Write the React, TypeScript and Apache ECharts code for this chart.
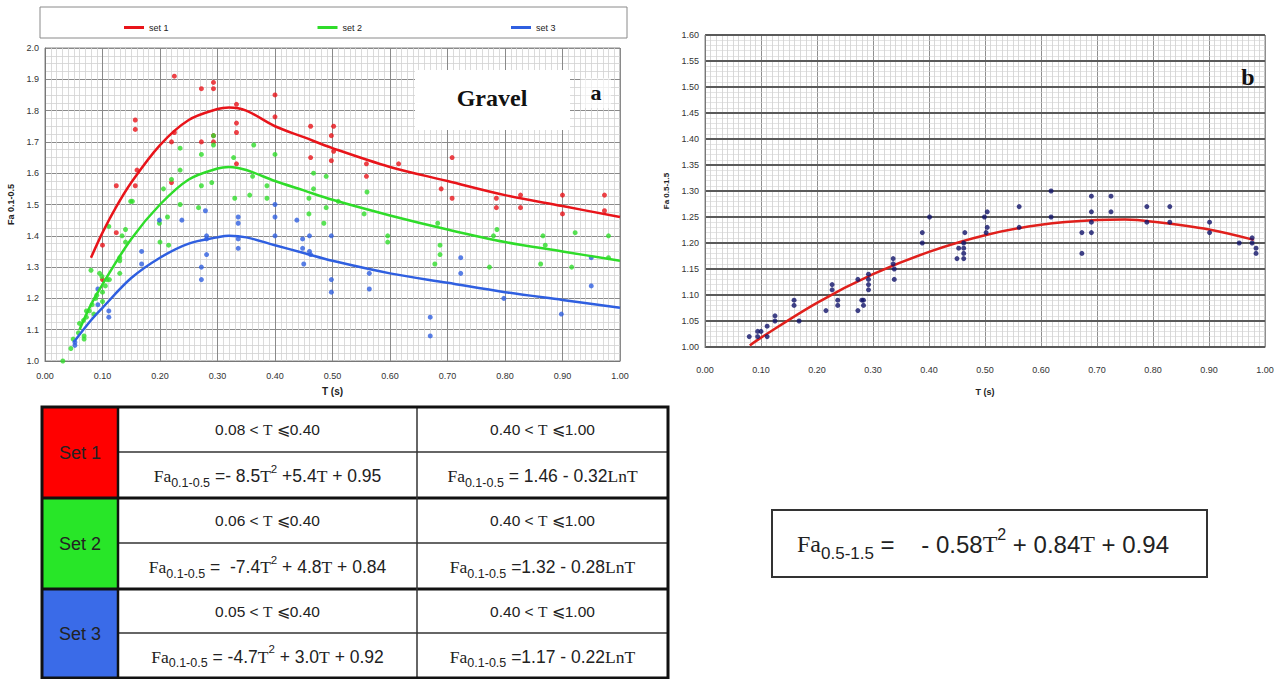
import React, { useEffect, useRef } from "react";
import * as echarts from "echarts";

// ---------- Data: panel a (Gravel) ----------
const set1Points: number[][] = [
  [0.10, 1.26], [0.10, 1.37], [0.124, 1.41], [0.124, 1.56], [0.157, 1.56], [0.157, 1.74], [0.157, 1.77], [0.16, 1.61],
  [0.22, 1.57], [0.22, 1.70], [0.225, 1.73], [0.225, 1.91], [0.272, 1.70], [0.272, 1.87], [0.293, 1.70], [0.293, 1.72],
  [0.293, 1.87], [0.293, 1.89], [0.333, 1.63], [0.333, 1.73], [0.333, 1.76], [0.333, 1.82], [0.40, 1.78], [0.40, 1.85],
  [0.462, 1.65], [0.462, 1.75], [0.498, 1.64], [0.498, 1.72], [0.502, 1.67], [0.502, 1.75], [0.559, 1.59], [0.559, 1.63],
  [0.615, 1.63], [0.689, 1.55], [0.708, 1.52], [0.708, 1.65], [0.785, 1.49], [0.785, 1.52], [0.827, 1.49], [0.827, 1.53],
  [0.90, 1.47], [0.90, 1.53], [0.973, 1.48], [0.973, 1.53],
];
const set2Points: number[][] = [
  [0.031, 1.00], [0.045, 1.04], [0.049, 1.07], [0.058, 1.09], [0.06, 1.12], [0.067, 1.13], [0.068, 1.07], [0.068, 1.08],
  [0.072, 1.14], [0.072, 1.16], [0.077, 1.16], [0.08, 1.29], [0.082, 1.18], [0.085, 1.15], [0.088, 1.20], [0.09, 1.21],
  [0.095, 1.28], [0.099, 1.27], [0.10, 1.22], [0.10, 1.19], [0.105, 1.24], [0.108, 1.26], [0.111, 1.43], [0.112, 1.26],
  [0.13, 1.33], [0.13, 1.32], [0.13, 1.28], [0.134, 1.40], [0.14, 1.42], [0.14, 1.38], [0.149, 1.51], [0.152, 1.51],
  [0.199, 1.44], [0.20, 1.38], [0.206, 1.55], [0.213, 1.46], [0.215, 1.37], [0.22, 1.58], [0.235, 1.50], [0.235, 1.61],
  [0.235, 1.68], [0.267, 1.49], [0.272, 1.56], [0.272, 1.66], [0.29, 1.57], [0.293, 1.69], [0.293, 1.72], [0.328, 1.65],
  [0.33, 1.52], [0.356, 1.53], [0.361, 1.59], [0.363, 1.69], [0.386, 1.56], [0.386, 1.52], [0.40, 1.66], [0.459, 1.52],
  [0.459, 1.47], [0.467, 1.55], [0.467, 1.60], [0.485, 1.44], [0.489, 1.49], [0.489, 1.59], [0.51, 1.51], [0.555, 1.47],
  [0.56, 1.54], [0.596, 1.40], [0.596, 1.38], [0.678, 1.31], [0.683, 1.44], [0.687, 1.37], [0.687, 1.34], [0.773, 1.30],
  [0.78, 1.40], [0.786, 1.42], [0.862, 1.31], [0.866, 1.40], [0.87, 1.37], [0.916, 1.30], [0.922, 1.41], [0.98, 1.40],
  [0.98, 1.33],
];
const set3Points: number[][] = [
  [0.052, 1.05], [0.052, 1.06], [0.092, 1.23], [0.092, 1.18], [0.111, 1.16], [0.111, 1.14], [0.168, 1.35], [0.168, 1.31],
  [0.199, 1.45], [0.238, 1.45], [0.272, 1.30], [0.272, 1.26], [0.279, 1.48], [0.281, 1.40], [0.281, 1.39], [0.281, 1.34],
  [0.336, 1.46], [0.336, 1.44], [0.336, 1.39], [0.336, 1.36], [0.40, 1.50], [0.40, 1.46], [0.40, 1.40], [0.438, 1.45],
  [0.448, 1.39], [0.448, 1.36], [0.45, 1.31], [0.46, 1.40], [0.46, 1.35], [0.462, 1.34], [0.498, 1.40], [0.498, 1.26],
  [0.498, 1.22], [0.564, 1.28], [0.564, 1.23], [0.67, 1.14], [0.67, 1.08], [0.723, 1.33], [0.723, 1.28], [0.798, 1.20],
  [0.898, 1.15], [0.95, 1.33], [0.95, 1.24],
];

const set1CurveT = [0.08, 0.10, 0.12, 0.15, 0.20, 0.25, 0.30, 0.32, 0.35, 0.40, 0.45, 0.50, 0.60, 0.70, 0.80, 0.90, 1.00];
const set1CurveFa = [1.33, 1.41, 1.48, 1.57, 1.69, 1.77, 1.805, 1.81, 1.80, 1.75, 1.715, 1.68, 1.62, 1.575, 1.53, 1.495, 1.46];
const set2CurveT = [0.06, 0.08, 0.10, 0.15, 0.20, 0.25, 0.30, 0.32, 0.35, 0.40, 0.45, 0.50, 0.60, 0.70, 0.80, 0.90, 1.00];
const set2CurveFa = [1.10, 1.18, 1.245, 1.39, 1.50, 1.58, 1.615, 1.62, 1.61, 1.575, 1.545, 1.515, 1.465, 1.42, 1.38, 1.35, 1.32];
const set3CurveT = [0.05, 0.08, 0.10, 0.15, 0.20, 0.25, 0.30, 0.32, 0.35, 0.40, 0.45, 0.50, 0.60, 0.70, 0.80, 0.90, 1.00];
const set3CurveFa = [1.06, 1.13, 1.17, 1.265, 1.33, 1.375, 1.395, 1.40, 1.395, 1.37, 1.345, 1.32, 1.28, 1.25, 1.22, 1.195, 1.17];

// ---------- Data: panel b ----------
const bPoints: number[][] = [
  [0.079, 1.02], [0.094, 1.03], [0.094, 1.02], [0.10, 1.03], [0.111, 1.02], [0.111, 1.04], [0.125, 1.06], [0.125, 1.05],
  [0.159, 1.09], [0.159, 1.08], [0.168, 1.05], [0.216, 1.07], [0.227, 1.12], [0.227, 1.11], [0.237, 1.09], [0.237, 1.08],
  [0.273, 1.13], [0.273, 1.07], [0.28, 1.09], [0.283, 1.08], [0.283, 1.09], [0.292, 1.14], [0.292, 1.13], [0.292, 1.12],
  [0.292, 1.11], [0.336, 1.17], [0.336, 1.16], [0.338, 1.15], [0.338, 1.13], [0.388, 1.22], [0.388, 1.20], [0.401, 1.25],
  [0.45, 1.17], [0.453, 1.19], [0.462, 1.20], [0.462, 1.19], [0.462, 1.18], [0.462, 1.17], [0.464, 1.22], [0.499, 1.25],
  [0.502, 1.22], [0.504, 1.23], [0.504, 1.26], [0.561, 1.27], [0.561, 1.23], [0.618, 1.25], [0.618, 1.30], [0.673, 1.22],
  [0.673, 1.18], [0.69, 1.29], [0.69, 1.26], [0.69, 1.24], [0.69, 1.22], [0.725, 1.29], [0.725, 1.26], [0.789, 1.27],
  [0.789, 1.24], [0.83, 1.27], [0.83, 1.24], [0.901, 1.24], [0.901, 1.22], [0.954, 1.20], [0.977, 1.20], [0.977, 1.21],
  [0.984, 1.19], [0.984, 1.18],
];
const bCurveT = [0.08, 0.10, 0.20, 0.30, 0.40, 0.50, 0.60, 0.70, 0.75, 0.80, 0.90, 0.98];
const bCurveFa = [1.003, 1.018, 1.085, 1.14, 1.183, 1.215, 1.235, 1.244, 1.245, 1.241, 1.226, 1.206];

// ---------- Table text ----------
const setNames = ["Set 1", "Set 2", "Set 3"];
const legendNames = ["set 1", "set 2", "set 3"];
const setColors = ["#e8141a", "#2fdc2a", "#2f5fe0"];
const cellColors = ["#ff0000", "#28e628", "#3a6be8"];
const rangeLow = ["0.08 <", "0.06 <", "0.05 <"];
const rangeLowEnd = ["⩽0.40", "⩽0.40", "⩽0.40"];
const rangeHigh = ["0.40 <", "0.40 <", "0.40 <"];
const rangeHighEnd = ["⩽1.00", "⩽1.00", "⩽1.00"];
const quadA = [" =- 8.5", " =  -7.4", " = -4.7"];
const quadB = [" +5.4", " + 4.8", " + 3.0"];
const quadC = [" + 0.95", " + 0.84", " + 0.92"];
const logA = [" = 1.46 - 0.32", " =1.32 - 0.28", " =1.17 - 0.22"];
const bEq = [" =    - 0.58", " + 0.84", " + 0.94"];

const SANS_F = "Liberation Sans";
const SERIF_F = "Liberation Serif";

const tok = (family: string, size: number, lineHeight: number, extra: any = {}) => ({
  fontFamily: family,
  fontSize: size,
  font: `${size}px "${family}"`,
  lineHeight,
  fill: "#222",
  color: "#222",
  ...extra,
});

const mkRich = (base: number, subSize = base * 0.7, supSize = base * 0.66) => ({
  f: tok(SERIF_F, base, base * 1.5),
  n: tok(SANS_F, base, base * 1.5),
  s: tok(SANS_F, subSize, subSize * 1.15, { verticalAlign: "bottom" }),
  p: tok(SANS_F, supSize, supSize * 1.15, { verticalAlign: "top" }),
});

const zip = (a: number[], b: number[]) => a.map((v, i) => [v, b[i]]);

function buildTable(): any[] {
  const els: any[] = [];
  const x0 = 42, x1 = 118, x2 = 417, x3 = 668;
  const rows = [407, 452, 498, 543, 589, 633, 678];
  setNames.forEach((name, i) => {
    const top = rows[i * 2], mid = rows[i * 2 + 1], bot = rows[i * 2 + 2];
    els.push({ type: "rect", z: 100, shape: { x: x0, y: top, width: x1 - x0, height: bot - top }, style: { fill: cellColors[i] } });
    els.push({ type: "rect", z: 100, shape: { x: x1, y: top, width: x3 - x1, height: bot - top }, style: { fill: "#fff" } });
    els.push({ type: "text", z: 102, x: (x0 + x1) / 2, y: (top + bot) / 2, style: { text: name, fontFamily: SANS_F, fontSize: 18, fill: "#222", align: "center", verticalAlign: "middle" } });
    els.push({ type: "text", z: 102, x: (x1 + x2) / 2, y: (top + mid) / 2, style: { text: `{n|${rangeLow[i]} }{f|T}{n| ${rangeLowEnd[i]}}`, rich: mkRich(15.5), align: "center", verticalAlign: "middle" } });
    els.push({ type: "text", z: 102, x: (x2 + x3) / 2, y: (top + mid) / 2, style: { text: `{n|${rangeHigh[i]} }{f|T}{n| ${rangeHighEnd[i]}}`, rich: mkRich(15.5), align: "center", verticalAlign: "middle" } });
    els.push({ type: "text", z: 102, x: (x1 + x2) / 2, y: (mid + bot) / 2 + 1, style: { text: `{f|Fa}{s|0.1-0.5}{n|${quadA[i]}}{f|T}{p|2}{n|${quadB[i]}}{f|T}{n|${quadC[i]}}`, rich: mkRich(17.5, 12.5, 11.5), align: "center", verticalAlign: "middle" } });
    els.push({ type: "text", z: 102, x: (x2 + x3) / 2, y: (mid + bot) / 2 + 1, style: { text: `{f|Fa}{s|0.1-0.5}{n|${logA[i]}}{f|LnT}`, rich: mkRich(17.5, 12.5, 11.5), align: "center", verticalAlign: "middle" } });
    els.push({ type: "line", z: 103, shape: { x1: x1, y1: mid, x2: x3, y2: mid }, style: { stroke: "#333", lineWidth: 1.5 } });
  });
  els.push({ type: "line", z: 104, shape: { x1: x0, y1: rows[2], x2: x3, y2: rows[2] }, style: { stroke: "#111", lineWidth: 3 } });
  els.push({ type: "line", z: 104, shape: { x1: x0, y1: rows[4], x2: x3, y2: rows[4] }, style: { stroke: "#111", lineWidth: 3 } });
  els.push({ type: "line", z: 104, shape: { x1: x1, y1: rows[0], x2: x1, y2: rows[6] }, style: { stroke: "#111", lineWidth: 2.5 } });
  els.push({ type: "line", z: 104, shape: { x1: x2, y1: rows[0], x2: x2, y2: rows[6] }, style: { stroke: "#333", lineWidth: 1.5 } });
  els.push({ type: "rect", z: 105, shape: { x: x0, y: rows[0], width: x3 - x0, height: rows[6] - rows[0] }, style: { fill: "none", stroke: "#111", lineWidth: 3 } });
  return els;
}

function buildOption(): any {
  const axisLabelA = { fontSize: 9, color: "#333", fontFamily: SANS_F };
  return {
    animation: false,
    backgroundColor: "#fff",
    textStyle: { fontFamily: SANS_F },
    legend: {
      data: legendNames,
      left: 119,
      top: 18,
      itemGap: 149,
      itemWidth: 20,
      itemHeight: 3,
      icon: "rect",
      textStyle: { fontSize: 9, color: "#222", fontFamily: SANS_F },
    },
    grid: [
      { left: 45, top: 48, width: 575, height: 313, show: true, borderColor: "#888", borderWidth: 1, backgroundColor: "#fff" },
      { left: 705, top: 35, width: 560, height: 312, show: true, borderColor: "#888", borderWidth: 1, backgroundColor: "#fff" },
    ],
    xAxis: [
      {
        type: "value", gridIndex: 0, min: 0, max: 1, interval: 0.1,
        axisLine: { show: true, lineStyle: { color: "#777" } }, axisTick: { show: false },
        axisLabel: { ...axisLabelA, margin: 10, formatter: (v: number) => v.toFixed(2) },
        splitLine: { show: true, lineStyle: { color: "#8a8a8a", width: 1 } },
        minorTick: { show: false, splitNumber: 10 },
        minorSplitLine: { show: true, lineStyle: { color: "#d2d2d2", width: 0.8 } },
        name: "T (s)", nameLocation: "middle", nameGap: 25,
        nameTextStyle: { fontWeight: "bold", fontSize: 10, color: "#222", fontFamily: SANS_F },
      },
      {
        type: "value", gridIndex: 1, min: 0, max: 1, interval: 0.1,
        axisLine: { show: true, lineStyle: { color: "#777" } }, axisTick: { show: false },
        axisLabel: { ...axisLabelA, margin: 18, formatter: (v: number) => v.toFixed(2) },
        splitLine: { show: true, lineStyle: { color: "#8f8f8f", width: 1 } },
        minorTick: { show: false, splitNumber: 10 },
        minorSplitLine: { show: true, lineStyle: { color: "#cfcfcf", width: 0.8 } },
        name: "T (s)", nameLocation: "middle", nameGap: 40,
        nameTextStyle: { fontWeight: "bold", fontSize: 9, color: "#222", fontFamily: SANS_F },
      },
    ],
    yAxis: [
      {
        type: "value", gridIndex: 0, min: 1, max: 2, interval: 0.1,
        axisLine: { show: true, lineStyle: { color: "#777" } }, axisTick: { show: false },
        axisLabel: { ...axisLabelA, margin: 6, formatter: (v: number) => v.toFixed(1) },
        splitLine: { show: true, lineStyle: { color: "#8a8a8a", width: 1 } },
        minorTick: { show: false, splitNumber: 4 },
        minorSplitLine: { show: true, lineStyle: { color: "#d2d2d2", width: 0.8 } },
        name: "Fa 0.1-0.5", nameLocation: "middle", nameGap: 30,
        nameTextStyle: { fontWeight: "bold", fontSize: 9, color: "#222", fontFamily: SANS_F },
      },
      {
        type: "value", gridIndex: 1, min: 1, max: 1.6, interval: 0.05, z: 1,
        axisLine: { show: true, lineStyle: { color: "#777" } }, axisTick: { show: false },
        axisLabel: { ...axisLabelA, margin: 6, formatter: (v: number) => v.toFixed(2) },
        splitLine: { show: true, lineStyle: { color: "#5a5a5a", width: 2 } },
        minorTick: { show: false, splitNumber: 5 },
        minorSplitLine: { show: true, lineStyle: { color: "#d2d2d2", width: 0.6 } },
        name: "Fa 0.5-1.5", nameLocation: "middle", nameGap: 35,
        nameTextStyle: { fontWeight: "bold", fontSize: 8, color: "#222", fontFamily: SANS_F },
      },
    ],
    series: [
      { name: "set 1 data", type: "scatter", xAxisIndex: 0, yAxisIndex: 0, data: set1Points, symbolSize: 5, itemStyle: { color: setColors[0] } },
      { name: "set 2 data", type: "scatter", xAxisIndex: 0, yAxisIndex: 0, data: set2Points, symbolSize: 5, itemStyle: { color: setColors[1] } },
      { name: "set 3 data", type: "scatter", xAxisIndex: 0, yAxisIndex: 0, data: set3Points, symbolSize: 5, itemStyle: { color: setColors[2] } },
      { name: legendNames[0], type: "line", xAxisIndex: 0, yAxisIndex: 0, data: zip(set1CurveT, set1CurveFa), smooth: 0.35, symbol: "none", lineStyle: { color: setColors[0], width: 2.5 }, itemStyle: { color: setColors[0] } },
      { name: legendNames[1], type: "line", xAxisIndex: 0, yAxisIndex: 0, data: zip(set2CurveT, set2CurveFa), smooth: 0.35, symbol: "none", lineStyle: { color: setColors[1], width: 2.5 }, itemStyle: { color: setColors[1] } },
      { name: legendNames[2], type: "line", xAxisIndex: 0, yAxisIndex: 0, data: zip(set3CurveT, set3CurveFa), smooth: 0.35, symbol: "none", lineStyle: { color: setColors[2], width: 2.5 }, itemStyle: { color: setColors[2] } },
      { name: "b data", type: "scatter", xAxisIndex: 1, yAxisIndex: 1, data: bPoints, symbolSize: 5, itemStyle: { color: "#12146a" }, z: 3 },
      { name: "b fit", type: "line", xAxisIndex: 1, yAxisIndex: 1, data: zip(bCurveT, bCurveFa), smooth: 0.35, symbol: "none", lineStyle: { color: "#e0201c", width: 2.5 }, itemStyle: { color: "#e0201c" }, z: 3 },
    ],
    graphic: [
      { type: "rect", z: 100, shape: { x: 40, y: 7, width: 587, height: 31 }, style: { fill: "none", stroke: "#8a8a8a", lineWidth: 1 } },
      { type: "rect", z: 100, shape: { x: 415, y: 70, width: 155, height: 60 }, style: { fill: "#fff" } },
      { type: "rect", z: 100, shape: { x: 581, y: 78, width: 30, height: 30 }, style: { fill: "#fff", opacity: 0.6 } },
      { type: "text", z: 101, x: 492, y: 98, style: { text: "Gravel", fontFamily: SERIF_F, fontWeight: "bold", fontSize: 24, fill: "#111", align: "center", verticalAlign: "middle" } },
      { type: "text", z: 101, x: 596, y: 92, style: { text: "a", fontFamily: SERIF_F, fontWeight: "bold", fontSize: 22, fill: "#111", align: "center", verticalAlign: "middle" } },
      { type: "text", z: 101, x: 1248, y: 77, style: { text: "b", fontFamily: SERIF_F, fontWeight: "bold", fontSize: 24, fill: "#111", align: "center", verticalAlign: "middle" } },
      ...buildTable(),
      { type: "rect", z: 100, shape: { x: 772, y: 510, width: 435, height: 67 }, style: { fill: "#fff", stroke: "#333", lineWidth: 2 } },
      { type: "text", z: 101, x: 983, y: 544, style: { text: `{f|Fa}{s|0.5-1.5}{n|${bEq[0]}}{f|T}{p|2}{n|${bEq[1]}}{f|T}{n|${bEq[2]}}`, rich: mkRich(24, 17, 16), align: "center", verticalAlign: "middle" } },
    ],
  };
}

export default function App() {
  const ref = useRef<HTMLDivElement>(null);
  useEffect(() => {
    if (!ref.current) return;
    const chart = echarts.init(ref.current, null, { renderer: "svg" });
    chart.setOption(buildOption());
    return () => chart.dispose();
  }, []);
  return (
    <div
      ref={ref}
      style={{ position: "absolute", left: 0, top: 0, width: 1281, height: 679, background: "#fff" }}
    />
  );
}
